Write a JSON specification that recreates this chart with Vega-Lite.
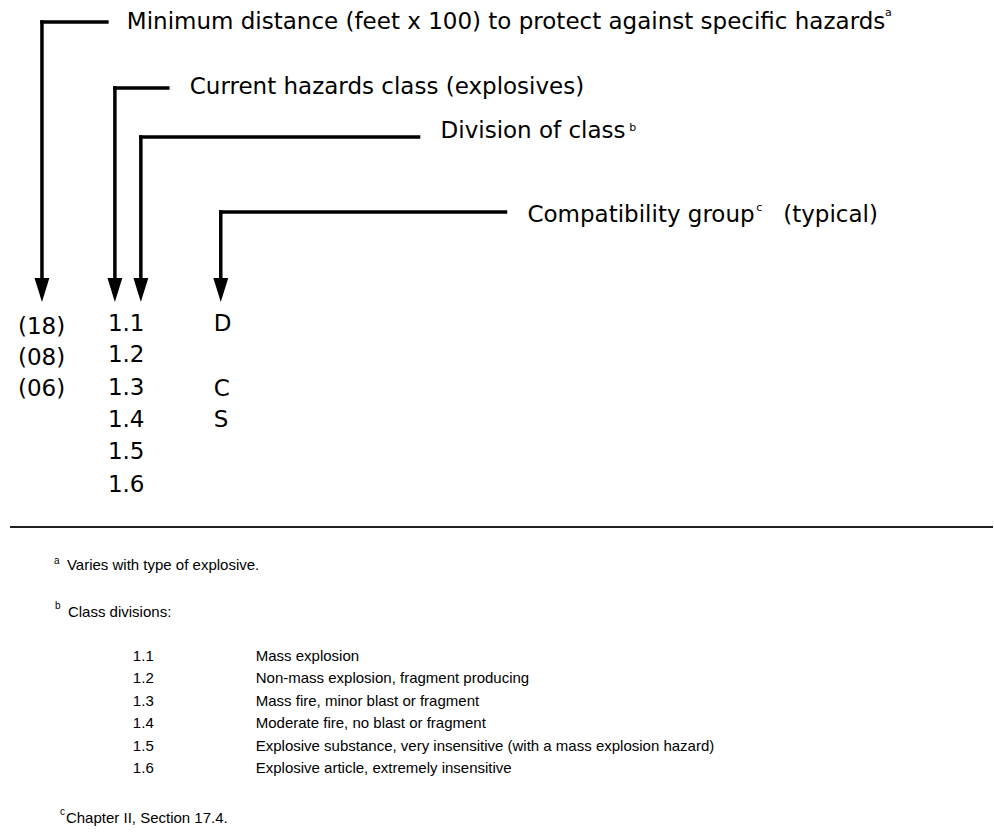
{
  "$schema": "https://vega.github.io/schema/vega-lite/v6.json",
  "width": 994,
  "height": 839,
  "autosize": {"type": "fit", "contains": "padding"},
  "padding": 0,
  "background": "white",
  "config": {"view": {"stroke": null}},
  "datasets": {
    "segments": [
      {"x": 42, "y": 22, "x2": 42, "y2": 282},
      {"x": 42, "y": 22, "x2": 107, "y2": 22},
      {"x": 115, "y": 88, "x2": 115, "y2": 282},
      {"x": 115, "y": 88, "x2": 168, "y2": 88},
      {"x": 141, "y": 137, "x2": 141, "y2": 282},
      {"x": 141, "y": 137, "x2": 419, "y2": 137},
      {"x": 221, "y": 212, "x2": 221, "y2": 282},
      {"x": 221, "y": 212, "x2": 506, "y2": 212}
    ],
    "heads": [
      {"x": 42, "y": 290},
      {"x": 115, "y": 290},
      {"x": 141, "y": 290},
      {"x": 221, "y": 290}
    ],
    "divider": [
      {"x": 10, "y": 527, "x2": 994, "y2": 527}
    ],
    "big": [
      {"x": 127, "y": 22, "label": "Minimum distance (feet x 100) to protect against specific hazards"},
      {"x": 190, "y": 87, "label": "Current hazards class (explosives)"},
      {"x": 441, "y": 131, "label": "Division of class"},
      {"x": 528, "y": 215, "label": "Compatibility group"},
      {"x": 784, "y": 215, "label": "(typical)"},
      {"x": 18, "y": 327, "label": "(18)"},
      {"x": 18, "y": 358, "label": "(08)"},
      {"x": 18, "y": 389, "label": "(06)"},
      {"x": 108, "y": 324, "label": "1.1"},
      {"x": 108, "y": 355, "label": "1.2"},
      {"x": 108, "y": 388, "label": "1.3"},
      {"x": 108, "y": 420, "label": "1.4"},
      {"x": 108, "y": 452, "label": "1.5"},
      {"x": 108, "y": 485, "label": "1.6"},
      {"x": 214, "y": 324, "label": "D"},
      {"x": 214, "y": 389, "label": "C"},
      {"x": 214, "y": 420, "label": "S"}
    ],
    "sups": [
      {"x": 886, "y": 13, "label": "a"},
      {"x": 630, "y": 128, "label": "b"},
      {"x": 757, "y": 208, "label": "c"}
    ],
    "notes": [
      {"x": 67, "y": 565, "label": "Varies with type of explosive."},
      {"x": 68, "y": 612, "label": "Class divisions:"},
      {"x": 133, "y": 656, "label": "1.1"},
      {"x": 133, "y": 678, "label": "1.2"},
      {"x": 133, "y": 701, "label": "1.3"},
      {"x": 133, "y": 723, "label": "1.4"},
      {"x": 133, "y": 746, "label": "1.5"},
      {"x": 133, "y": 768, "label": "1.6"},
      {"x": 256, "y": 656, "label": "Mass explosion"},
      {"x": 256, "y": 678, "label": "Non-mass explosion, fragment producing"},
      {"x": 256, "y": 701, "label": "Mass fire, minor blast or fragment"},
      {"x": 256, "y": 723, "label": "Moderate fire, no blast or fragment"},
      {"x": 256, "y": 746, "label": "Explosive substance, very insensitive (with a mass explosion hazard)"},
      {"x": 256, "y": 768, "label": "Explosive article, extremely insensitive"},
      {"x": 66, "y": 818, "label": "Chapter II, Section 17.4."}
    ],
    "noteSups": [
      {"x": 54, "y": 561, "label": "a"},
      {"x": 55, "y": 606, "label": "b"},
      {"x": 60, "y": 812, "label": "c"}
    ]
  },
  "encoding": {
    "x": {"field": "x", "type": "quantitative", "scale": {"domain": [0, 994], "nice": false, "zero": false}, "axis": null},
    "y": {"field": "y", "type": "quantitative", "scale": {"domain": [0, 839], "nice": false, "zero": false, "reverse": true}, "axis": null}
  },
  "layer": [
    {
      "data": {"name": "segments"},
      "mark": {"type": "rule", "color": "black", "strokeWidth": 3.5, "strokeCap": "square"},
      "encoding": {"x2": {"field": "x2"}, "y2": {"field": "y2"}}
    },
    {
      "data": {"name": "heads"},
      "mark": {"type": "point", "shape": "M-0.62,-1L0.62,-1L0,1Z", "size": 576, "filled": true, "color": "black", "opacity": 1}
    },
    {
      "data": {"name": "divider"},
      "mark": {"type": "rule", "color": "#222222", "strokeWidth": 2},
      "encoding": {"x2": {"field": "x2"}, "y2": {"field": "y2"}}
    },
    {
      "data": {"name": "big"},
      "mark": {"type": "text", "align": "left", "baseline": "middle", "font": "DejaVu Sans", "fontSize": 23, "color": "black"},
      "encoding": {"text": {"field": "label"}}
    },
    {
      "data": {"name": "sups"},
      "mark": {"type": "text", "align": "left", "baseline": "middle", "font": "DejaVu Sans", "fontSize": 11, "color": "black"},
      "encoding": {"text": {"field": "label"}}
    },
    {
      "data": {"name": "notes"},
      "mark": {"type": "text", "align": "left", "baseline": "middle", "font": "Liberation Sans", "fontSize": 15, "color": "black"},
      "encoding": {"text": {"field": "label"}}
    },
    {
      "data": {"name": "noteSups"},
      "mark": {"type": "text", "align": "left", "baseline": "middle", "font": "Liberation Sans", "fontSize": 10, "color": "black"},
      "encoding": {"text": {"field": "label"}}
    }
  ]
}
